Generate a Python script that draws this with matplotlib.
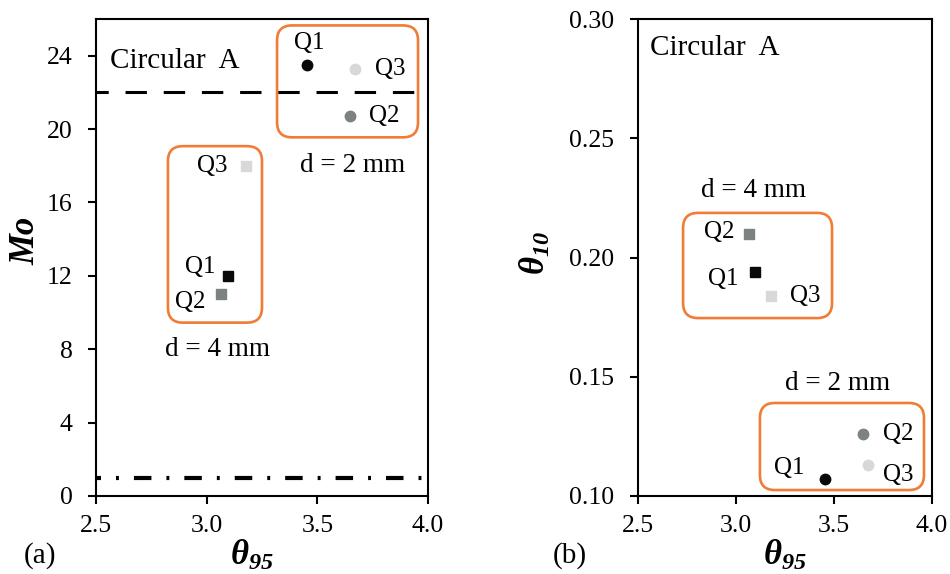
import matplotlib
matplotlib.use("Agg")
import matplotlib.pyplot as plt
from matplotlib.patches import FancyBboxPatch
from matplotlib.ticker import FormatStrFormatter

plt.rcParams["font.family"] = ["Liberation Serif", "DejaVu Serif"]
plt.rcParams["mathtext.fontset"] = "custom"
plt.rcParams["mathtext.it"] = "Liberation Serif:italic:bold"
plt.rcParams["mathtext.rm"] = "Liberation Serif:italic:bold"

# data
q_labels = ["Q1", "Q2", "Q3"]
q_colors = ["#0a0a0a", "#7c8282", "#d8d8d8"]

theta95_2mm = [3.455, 3.646, 3.671]
theta95_4mm = [3.098, 3.065, 3.177]
mo_2mm = [23.5, 20.7, 23.3]
mo_4mm = [12.0, 11.0, 18.0]
theta10_2mm = [0.107, 0.126, 0.113]
theta10_4mm = [0.194, 0.210, 0.184]

mo_upper = 22
mo_lower = 1

x_ticks = [2.5, 3.0, 3.5, 4.0]
mo_ticks = [0, 4, 8, 12, 16, 20, 24]
theta10_ticks = [0.10, 0.15, 0.20, 0.25, 0.30]

# label offsets (points) for Q1, Q2, Q3 in each group
off_a_2mm = [(1.5, 16, "center"), (14, 0, "left"), (14, 0, "left")]
off_a_4mm = [(-9.5, 6.5, "right"), (-11, -5.5, "right"), (-13.5, 0, "right")]
off_b_4mm = [(-12, -5.5, "right"), (-10.5, 1.5, "right"), (14, -0.5, "left")]
off_b_2mm = [(-15, 8, "right"), (15, 0, "left"), (11.5, -7, "left")]

# orange group boxes: (x0, x1, y0, y1)
box_a_2mm = (3.318, 3.955, 19.55, 25.65)
box_a_4mm = (2.825, 3.250, 9.45, 19.07)
box_b_4mm = (2.730, 3.490, 0.1746, 0.2187)
box_b_2mm = (3.122, 3.959, 0.1025, 0.1390)

orange = "#F07C36"
FS = 18.5

fig = plt.figure(figsize=(9.5, 5.74), dpi=100)
ax1 = fig.add_axes([96 / 950, 1 - 496 / 574, 332 / 950, 477 / 574])
ax2 = fig.add_axes([638 / 950, 1 - 496 / 574, 294 / 950, 477 / 574])


def style_axes(ax):
    for s in ax.spines.values():
        s.set_linewidth(1.5)
        s.set_color("black")
    ax.tick_params(direction="out", length=6, width=1.5, labelsize=FS,
                   top=False, right=False)
    ax.tick_params(axis="y", pad=11)
    ax.tick_params(axis="x", pad=8)
    ax.set_xlim(2.5, 4.0)
    ax.set_xticks(x_ticks)
    ax.xaxis.set_major_formatter(FormatStrFormatter("%.1f"))


def add_box(ax, box):
    x0, x1, y0, y1 = box
    p0 = ax.transData.transform((0, 0))
    p1 = ax.transData.transform((1, 1))
    ux = 1 / (p1[0] - p0[0])
    uy = 1 / (p1[1] - p0[1])
    r = 15 * ux
    patch = FancyBboxPatch((x0, y0), x1 - x0, y1 - y0,
                           boxstyle=f"round,pad=0,rounding_size={r}",
                           mutation_aspect=uy / ux,
                           fc="none", ec=orange, lw=1.9, zorder=1)
    ax.add_patch(patch)


def add_points(ax, xs, ys, marker, offsets):
    for x, y, c, lab, (dx, dy, ha) in zip(xs, ys, q_colors, q_labels, offsets):
        ax.plot(x, y, marker=marker, ms=7.5, color=c, mec=c, ls="none", zorder=3)
        ax.annotate(lab, (x, y), xytext=(dx, dy), textcoords="offset points",
                    ha=ha, va="center", fontsize=18)


# panel (a)
style_axes(ax1)
ax1.set_ylim(0, 26)
ax1.set_yticks(mo_ticks)
ax1.axhline(mo_upper, color="black", lw=2.2, ls=(3, (7, 5.5)), zorder=2)
ax1.axhline(mo_lower, color="black", lw=3, ls=(3, (4.2, 3.6, 0.7, 3.6)),
            solid_capstyle="butt", zorder=2)
add_box(ax1, box_a_2mm)
add_box(ax1, box_a_4mm)
add_points(ax1, theta95_2mm, mo_2mm, "o", off_a_2mm)
add_points(ax1, theta95_4mm, mo_4mm, "s", off_a_4mm)
ax1.text(2.563, 23.7, "Circular  A", fontsize=21, va="center")
ax1.text(3.66, 18.0, "d = 2 mm", fontsize=19.5, ha="center", va="center")
ax1.text(3.05, 8.0, "d = 4 mm", fontsize=19.5, ha="center", va="center")
ax1.set_ylabel("Mo", fontsize=25, fontweight="bold", fontstyle="italic")
ax1.yaxis.set_label_coords(-0.16, 0.535)
ax1.set_xlabel(r"$\theta_{95}$", fontsize=25, va="center")
ax1.xaxis.set_label_coords(0.47, -0.125)

# panel (b)
style_axes(ax2)
ax2.set_ylim(0.10, 0.30)
ax2.set_yticks(theta10_ticks)
ax2.yaxis.set_major_formatter(FormatStrFormatter("%.2f"))
add_box(ax2, box_b_4mm)
add_box(ax2, box_b_2mm)
add_points(ax2, theta95_4mm, theta10_4mm, "s", off_b_4mm)
add_points(ax2, theta95_2mm, theta10_2mm, "o", off_b_2mm)
ax2.text(2.561, 0.288, "Circular  A", fontsize=21, va="center")
ax2.text(3.087, 0.2283, "d = 4 mm", fontsize=19.5, ha="center", va="center")
ax2.text(3.52, 0.147, "d = 2 mm", fontsize=19.5, ha="center", va="center")
ax2.set_ylabel(r"$\theta_{10}$", fontsize=25)
ax2.yaxis.set_label_coords(-0.29, 0.51)
ax2.set_xlabel(r"$\theta_{95}$", fontsize=25, va="center")
ax2.xaxis.set_label_coords(0.5, -0.125)

fig.text(40 / 950, 1 - 556 / 574, "(a)", fontsize=21, ha="center", va="center")
fig.text(570 / 950, 1 - 556 / 574, "(b)", fontsize=21, ha="center", va="center")

fig.savefig("out.png", dpi=100)
